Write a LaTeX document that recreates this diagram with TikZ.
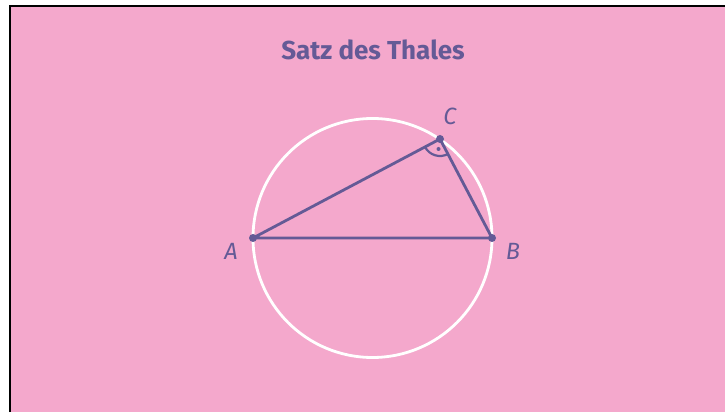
\documentclass[tikz,border=0pt]{standalone}
\usepackage{fontspec}
\setmainfont{Fira Sans}
\usetikzlibrary{angles,quotes,calc}
\definecolor{bgpink}{HTML}{F4A8CC}
\definecolor{ink}{HTML}{645A96}
\tikzset{
  edge/.style={draw=ink, line width=2.8pt, line cap=round, line join=round},
  ptdot/.style={circle, fill=ink, inner sep=0pt, minimum size=8pt},
  ptlabel/.style={text=ink, font=\fontsize{23.5}{25}\selectfont\itshape, inner sep=0pt},
}
\begin{document}
\begin{tikzpicture}[x=1pt, y=1pt]
  \useasboundingbox (0,0) rectangle (725,412);
  \fill[white] (0,0) rectangle (725,412);
  \fill[bgpink] (10,0) rectangle (725,406);
  \draw[black, line width=2.5pt] (10,0) -- (10,406) -- (725,406);
  \node[text=ink, font=\fontsize{26}{29}\selectfont\bfseries] (title) at (373,362) {Satz des Thales};
  \coordinate (O) at (372.5,174);
  \draw[white, line width=2.8pt] (O) circle (119.5);
  \coordinate (A) at (253,174);
  \coordinate (B) at (492,174);
  \coordinate (C) at (440,273);
  \draw[edge] (A) -- (B) -- (C) -- cycle;
  \pic[draw=ink, line width=2.2pt, angle radius=17pt] {angle = A--C--B};
  \node[circle, fill=ink, inner sep=0pt, minimum size=4pt] (rdot) at ($(C)+(-1.5,-10)$) {};
  \node[ptdot] (dA) at (A) {};
  \node[ptdot] (dB) at (B) {};
  \node[ptdot] (dC) at (C) {};
  \node[ptlabel] (lA) at (231,161) {A};
  \node[ptlabel] (lB) at (513,161) {B};
  \node[ptlabel] (lC) at (450,296) {C};
\end{tikzpicture}
\end{document}
